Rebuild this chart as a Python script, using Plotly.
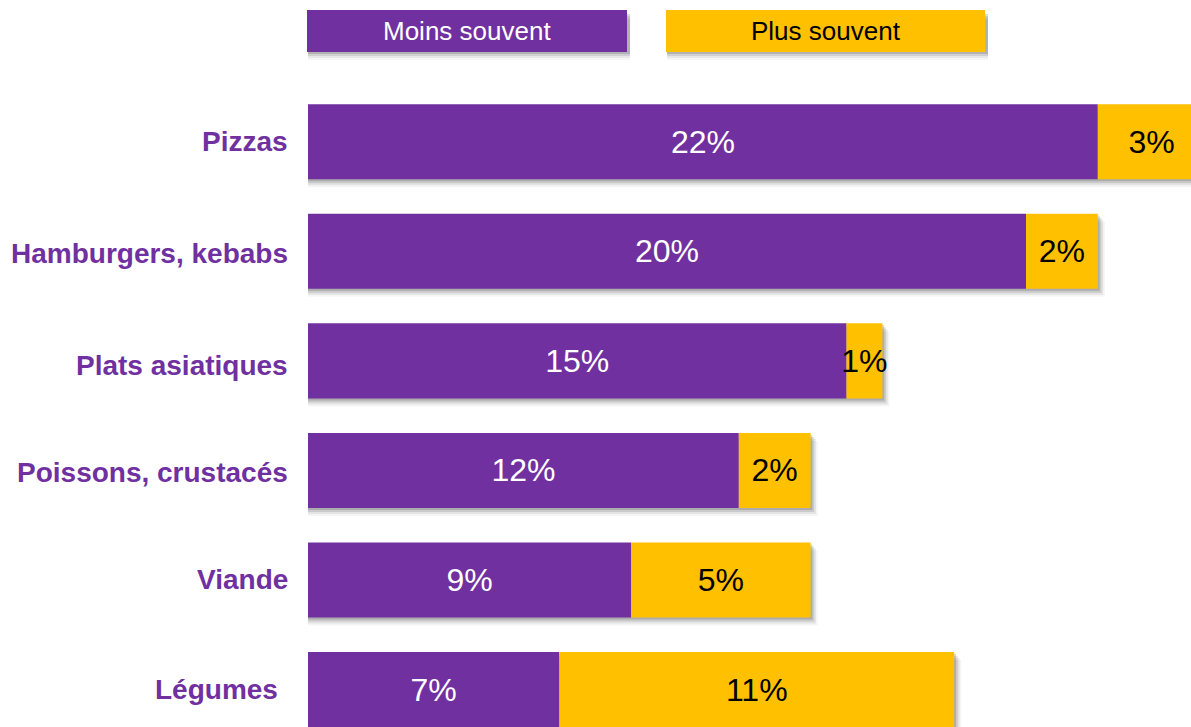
import plotly.graph_objects as go

# Food categories, top to bottom
categories = ["Pizzas", "Hamburgers, kebabs", "Plats asiatiques",
              "Poissons, crustacés", "Viande", "Légumes"]
moins_souvent = [22, 20, 15, 12, 9, 7]
plus_souvent = [3, 2, 1, 2, 5, 11]

series_names = ["Moins souvent", "Plus souvent"]

PURPLE = "#7030A0"
YELLOW = "#FFC000"
FONT = "Liberation Sans, Arial, sans-serif"

W, H = 1191, 727
ML, MT = 308, 87
PLOT_W, PLOT_H = W - ML, H - MT
PX_PER_CAT = 109.55
BAR_W = 0.685

totals = [m + p for m, p in zip(moins_souvent, plus_souvent)]

fig = go.Figure()

# Soft drop shadow under each bar, built from a few translucent layers
for i, (shift, alpha) in enumerate([(2, 0.15), (4, 0.11), (6, 0.07), (8, 0.04)]):
    fig.add_trace(go.Bar(
        y=categories, x=[t + 0.05 * (i + 1) for t in totals], base=0,
        orientation="h", width=BAR_W, offset=-BAR_W / 2 + shift / PX_PER_CAT,
        marker=dict(color=f"rgba(0,0,0,{alpha})", line_width=0),
        hoverinfo="skip", showlegend=False,
    ))

fig.add_trace(go.Bar(
    name=series_names[0], y=categories, x=moins_souvent, base=0,
    orientation="h", width=BAR_W, offset=-BAR_W / 2,
    marker=dict(color=PURPLE, line_width=0),
    text=[f"{v}%" for v in moins_souvent], textposition="inside", textangle=0,
    insidetextanchor="middle", textfont=dict(color="white", size=32, family=FONT),
    showlegend=False,
))
fig.add_trace(go.Bar(
    name=series_names[1], y=categories, x=plus_souvent, base=moins_souvent,
    orientation="h", width=BAR_W, offset=-BAR_W / 2,
    marker=dict(color=YELLOW, line_width=0),
    text=[f"{v}%" for v in plus_souvent], textposition="inside", textangle=0,
    insidetextanchor="middle", textfont=dict(color="black", size=32, family=FONT),
    showlegend=False,
))

# Category labels to the left of the bars
label_xshift = {"Légumes": -28}
label_yshift = {"Hamburgers, kebabs": -2, "Plats asiatiques": -5, "Poissons, crustacés": -2}
for cat in categories:
    fig.add_annotation(
        x=0, xref="paper", y=cat, yref="y", xanchor="right", yanchor="middle",
        xshift=label_xshift.get(cat, -18), yshift=label_yshift.get(cat, 0),
        showarrow=False, text=f"<b>{cat}</b>",
        font=dict(family=FONT, size=28, color=PURPLE),
    )


def px_x(x):
    return (x - ML) / PLOT_W


def px_y(y):
    return (H - y) / PLOT_H


# Legend boxes across the top
legend_boxes = [
    (series_names[0], PURPLE, "white", 307, 627),
    (series_names[1], YELLOW, "black", 666, 985),
]
for name, fill, txt, x0, x1 in legend_boxes:
    for shift, alpha in [(2, 0.14), (4, 0.10), (6, 0.06), (8, 0.03)]:
        fig.add_shape(
            type="rect", xref="paper", yref="paper", layer="below",
            x0=px_x(x0 + 1), x1=px_x(x1 + 3), y0=px_y(52 + shift), y1=px_y(12 + shift),
            fillcolor=f"rgba(0,0,0,{alpha})", line_width=0,
        )
    fig.add_shape(
        type="rect", xref="paper", yref="paper",
        x0=px_x(x0), x1=px_x(x1), y0=px_y(52), y1=px_y(10),
        fillcolor=fill, line_width=0,
    )
    fig.add_annotation(
        x=px_x((x0 + x1) / 2), y=px_y(31), xref="paper", yref="paper",
        xanchor="center", yanchor="middle", showarrow=False, text=name,
        font=dict(family=FONT, size=26, color=txt),
    )

fig.update_layout(
    width=W, height=H,
    margin=dict(l=ML, r=0, t=MT, b=0, pad=0),
    paper_bgcolor="white", plot_bgcolor="white",
    barmode="overlay",
    uniformtext=dict(mode="show", minsize=32),
    xaxis=dict(range=[0, PLOT_W / 35.9], visible=False, fixedrange=True),
    yaxis=dict(categoryorder="array", categoryarray=categories,
               range=[5 + 37.5 / PX_PER_CAT, -0.5], visible=False, fixedrange=True),
    font=dict(family=FONT),
)

fig.write_html("out.html")
